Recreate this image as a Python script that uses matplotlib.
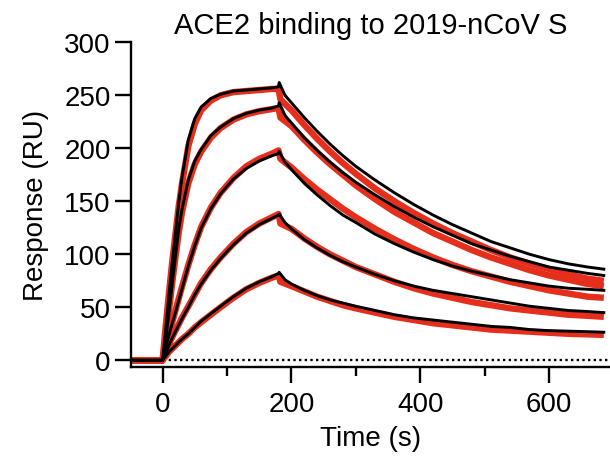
import matplotlib
matplotlib.use('Agg')
import matplotlib.pyplot as plt
from matplotlib.ticker import MultipleLocator

plt.rcParams['font.family'] = ['Liberation Sans', 'DejaVu Sans']

# time points (s)
t_base = [-50, 0]
t_assoc = [0, 5, 10, 15, 20, 25, 30, 40, 50, 60, 75, 90, 110, 130, 150, 170, 180]
t_dis_black = [180, 181, 190, 200, 220, 240, 260, 280, 300, 330, 360, 390, 420,
               450, 480, 510, 540, 570, 600, 630, 660, 685]
t_dis_red = [180, 183, 200, 220, 240, 260, 280, 300, 330, 360, 390, 420,
             450, 480, 510, 540, 570, 600, 630, 660, 685]

base = [0, 0]

# measured responses (black), RU
black1_a = [0, 30, 62, 92, 120, 148, 172, 208, 228, 239, 247, 251, 254, 255, 256, 257, 258]
black2_a = [0, 20, 45, 72, 98, 123, 142, 170, 188, 199, 212, 220, 228, 233, 236, 238, 240]
black3_a = [0, 12, 24, 35, 45, 56, 67, 89, 108, 125, 143, 157, 171, 181, 188, 193, 195]
black4_a = [0, 7, 14, 21, 27, 33, 39, 50, 62, 72, 85, 96, 109, 120, 128, 134, 137]
black5_a = [0, 4, 8, 11, 14, 17, 20, 25, 31, 37, 44, 51, 60, 68, 74, 79, 82]

black1_d = [258, 262, 250, 243, 229, 216, 204, 193, 183, 170, 158, 147, 137,
            128, 120, 112, 106, 100, 95, 91, 88, 86]
black2_d = [240, 243, 231, 224, 210, 198, 187, 177, 168, 156, 145, 135, 126,
            118, 110, 104, 98, 93, 88, 85, 82, 80]
black3_d = [195, 197, 187, 180, 167, 156, 146, 137, 130, 119, 110, 102, 95,
            89, 84, 80, 76, 73, 70, 68, 67, 66]
black4_d = [137, 138, 130, 124, 114, 106, 99, 93, 88, 81, 75, 70, 66,
            63, 60, 57, 54, 51, 49, 47, 46, 45]
black5_d = [82, 83, 76, 72, 66, 61, 57, 54, 51, 47, 43, 40, 38,
            36, 34, 32, 31, 29, 28, 27.5, 27, 26.5]

# fitted responses (red), RU
red1_a = [0, 33, 64, 93, 119, 145, 166, 202, 223, 236, 245, 250, 253, 254, 255, 256, 256]
red2_a = [0, 22, 47, 73, 97, 120, 139, 167, 185, 197, 210, 219, 227, 232, 235, 237, 238]
red3_a = [0, 13, 25, 36, 47, 58, 69, 90, 109, 126, 144, 158, 172, 183, 190, 195, 198]
red4_a = [0, 8, 15, 22, 28, 34, 40, 51, 62, 73, 86, 97, 110, 121, 129, 135, 138]
red5_a = [0, 4, 8, 11, 14, 17, 20, 25, 31, 36, 43, 50, 59, 67, 73, 78, 80]

red1_d = [256, 246, 236, 222, 209, 197, 186, 176, 162, 150, 139, 129,
          120, 112, 104, 97, 91, 86, 81, 77, 75]
red2_d = [238, 229, 221, 208, 196, 185, 175, 165, 152, 140, 130, 120,
          112, 104, 97, 91, 85, 80, 76, 72, 70]
red3_d = [198, 190, 182, 171, 161, 152, 143, 135, 124, 114, 105, 97,
          90, 84, 79, 74, 70, 66, 63, 60, 59]
red4_d = [138, 129, 124, 115, 107, 100, 94, 88, 81, 74, 68, 63,
          59, 55, 52, 49, 47, 45, 43, 42, 41]
red5_d = [80, 74, 70, 65, 60, 56, 52, 49, 45, 41, 38, 35,
          33, 31, 29, 28, 27, 26, 25, 24.5, 24]

black_assoc = [black1_a, black2_a, black3_a, black4_a, black5_a]
black_dis = [black1_d, black2_d, black3_d, black4_d, black5_d]
red_assoc = [red1_a, red2_a, red3_a, red4_a, red5_a]
red_dis = [red1_d, red2_d, red3_d, red4_d, red5_d]

red = '#e62e1c'

fig = plt.figure(figsize=(6.1, 4.6), dpi=100)
ax = fig.add_axes([131/610, 0.2007, 479/610, 0.7052])

ax.plot([0, 700], [0, 0], color='black', lw=1.7, ls=(0, (1, 1.4)), zorder=1)

for ya, yd in zip(red_assoc, red_dis):
    ax.plot(t_base + t_assoc + t_dis_red, base + ya + yd, color=red, lw=4.6,
            solid_joinstyle='round', solid_capstyle='butt', zorder=2)
for ya, yd in zip(black_assoc, black_dis):
    ax.plot(t_base + t_assoc + t_dis_black, base + ya + yd, color='black', lw=2.1,
            solid_joinstyle='round', zorder=3)

ax.set_xlim(-49, 694.6)
ax.set_ylim(-6, 300)
ax.spines['top'].set_visible(False)
ax.spines['right'].set_visible(False)
ax.spines['left'].set_linewidth(1.7)
ax.spines['bottom'].set_linewidth(1.7)

ax.set_xticks([0, 200, 400, 600])
ax.xaxis.set_minor_locator(MultipleLocator(100))
ax.set_yticks([0, 50, 100, 150, 200, 250, 300])
ax.tick_params(axis='both', which='major', length=11.5, width=1.7, labelsize=20, pad=3)
ax.tick_params(axis='x', which='major', pad=6)
ax.tick_params(axis='x', which='minor', length=6.5, width=1.7)

ax.set_xlabel('Time (s)', fontsize=20, labelpad=6)
ax.set_ylabel('Response (RU)', fontsize=20, labelpad=11)
ax.set_title('ACE2 binding to 2019-nCoV S', fontsize=21, pad=7)

fig.savefig('out.png', dpi=100)
plt.close(fig)
